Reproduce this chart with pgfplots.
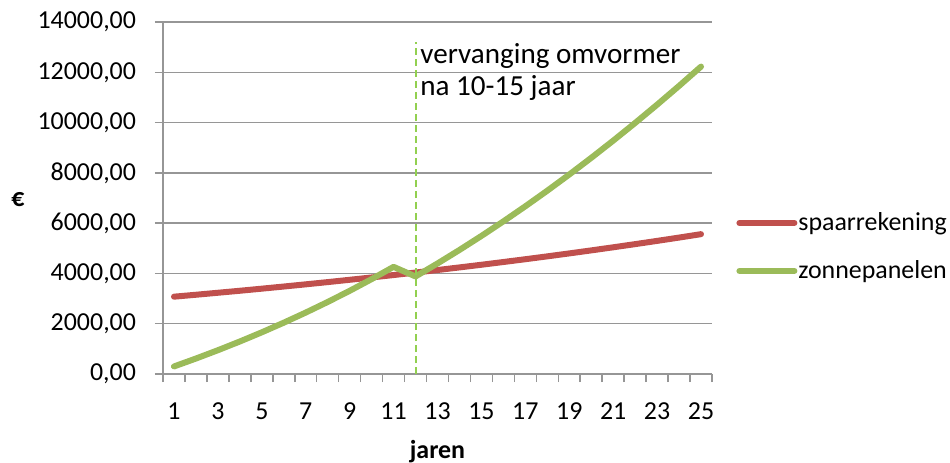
\documentclass[border=0pt]{standalone}
\usepackage{pgfplots}
\pgfplotsset{compat=1.18}
\usepackage{fontspec}
\setmainfont{Carlito}
\usetikzlibrary{calc}
\definecolor{sred}{RGB}{192,80,77}
\definecolor{sgreen}{RGB}{155,187,89}
\definecolor{dgreen}{RGB}{146,208,80}
\definecolor{gridgray}{RGB}{150,150,150}
\begin{document}
\begin{tikzpicture}
\begin{axis}[
  name=ax, at={(0,0)}, anchor=south west,
  scale only axis, width=274.5bp, height=176bp,
  xmin=0.5, xmax=25.5, ymin=0, ymax=14000,
  axis x line*=bottom, axis y line*=left,
  axis line style={gridgray, line width=0.75bp, -},
  xtick={0.5,1.5,...,25.5}, xticklabels={},
  extra x ticks={1,3,...,25},
  extra x tick style={grid=none, major tick length=0pt, tick style={draw=none}},
  ytick={0,2000,...,14000},
  scaled y ticks=false,
  tick align=outside,
  major tick length=4bp,
  tick style={gridgray, line width=0.75bp},
  ymajorgrids, major grid style={gridgray, line width=0.75bp},
  tick label style={font=\fontsize{13}{15.6}\selectfont},
  xticklabel style={yshift=-11bp},
  yticklabel style={xshift=-6bp,
    /pgf/number format/fixed, /pgf/number format/fixed zerofill,
    /pgf/number format/precision=2, /pgf/number format/use comma,
    /pgf/number format/1000 sep={}},
  /pgf/number format/assume math mode=true,
  xlabel={\textbf{jaren}}, ylabel={\textbf{€}},
  every axis x label/.style={at={(axis description cs:0.5,0)}, anchor=center, yshift=-39bp, font=\fontsize{13}{15.6}\selectfont},
  every axis y label/.style={at={(axis description cs:0,0.5)}, anchor=center, xshift=-72.5bp, yshift=-1bp, font=\fontsize{13}{15.6}\selectfont},
  legend style={at={(1,0.361)}, anchor=west, xshift=12bp, draw=none, fill=none, inner sep=0pt,
    font=\fontsize{13}{15.6}\selectfont, row sep=12.5bp, nodes={inner sep=0.5bp}},
  legend cell align=left,
  legend image code/.code={\draw[#1, line cap=round] (0bp,0bp) -- (27.5bp,0bp);},
]
\addplot[sred, line width=3bp, line join=round, line cap=round] coordinates {
(1,3075) (2,3152) (3,3231) (4,3311) (5,3394) (6,3479) (7,3566) (8,3655) (9,3747) (10,3840)
(11,3936) (12,4035) (13,4136) (14,4239) (15,4345) (16,4454) (17,4565) (18,4679) (19,4796)
(20,4916) (21,5039) (22,5165) (23,5294) (24,5426) (25,5562)};
\addlegendentry{spaarrekening}
\addplot[sgreen, line width=3bp, line join=round, line cap=round] coordinates {
(1,300) (2,615) (3,946) (4,1293) (5,1658) (6,2041) (7,2443) (8,2865) (9,3308) (10,3773)
(11,4262) (12,3880) (13,4396) (14,4933) (15,5491) (16,6070) (17,6670) (18,7291) (19,7933)
(20,8596) (21,9280) (22,9985) (23,10711) (24,11458) (25,12226)};
\addlegendentry{zonnepanelen}
\addplot[dgreen, line width=1bp, dash pattern=on 3.5bp off 2bp, forget plot] coordinates {(12,0) (12,13210)};
\node[anchor=base west, font=\fontsize{14.6}{16}\selectfont, inner sep=0pt, xshift=2.25bp] at (axis cs:12,12366) {vervanging omvormer};
\node[anchor=base west, font=\fontsize{14.6}{16}\selectfont, inner sep=0pt, xshift=2.25bp] at (axis cs:12,11065) {na 10-15 jaar};
\end{axis}
\pgfresetboundingbox
\path[use as bounding box] ($(ax.south west)+(-81.5bp,-44.5bp)$) rectangle ($(ax.north east)+(119bp,11bp)$);
\end{tikzpicture}
\end{document}
